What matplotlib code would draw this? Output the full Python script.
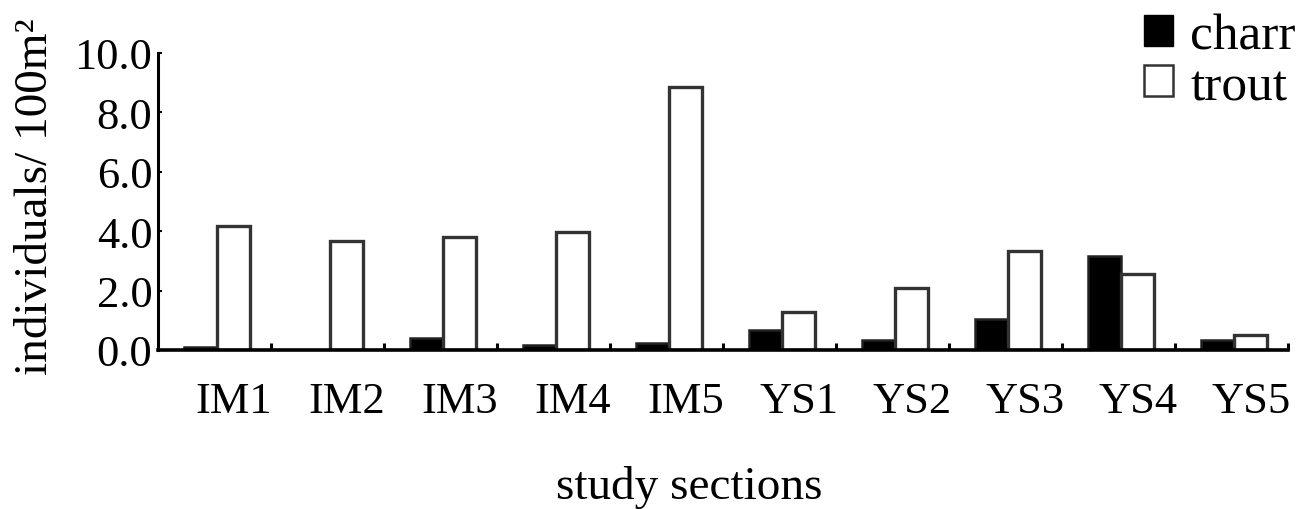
import matplotlib
matplotlib.use("Agg")
import matplotlib.pyplot as plt
import numpy as np
from matplotlib.patches import Patch

plt.rcParams['font.family'] = ['Liberation Serif', 'DejaVu Serif']

sections = ["IM1", "IM2", "IM3", "IM4", "IM5", "YS1", "YS2", "YS3", "YS4", "YS5"]
charr = [0.09, 0.0, 0.41, 0.17, 0.24, 0.68, 0.35, 1.05, 3.17, 0.35]
trout = [4.17, 3.66, 3.79, 3.96, 8.87, 1.28, 2.10, 3.32, 2.55, 0.49]
yticks = [0, 2, 4, 6, 8, 10]

W, H = 1298, 510
fig = plt.figure(figsize=(W / 100, H / 100), dpi=100)
ax = fig.add_axes([158 / W, 1 - 351 / H, (1288 - 158) / W, (351 - 54) / H])

x = np.arange(len(sections))
bw = 0.29
ax.bar(x - bw / 2 + 0.02, charr, width=bw, color='black', edgecolor='#222222', linewidth=1.8)
ax.bar(x + bw / 2 + 0.02, trout, width=bw, color='white', edgecolor='#333333', linewidth=2.4)

ax.set_xlim(-0.5, len(sections) - 0.5)
ax.set_ylim(0, 10)
ax.set_yticks(yticks)
ax.set_yticklabels([f"{v:.1f}" for v in yticks], fontsize=32)
ax.tick_params(axis='y', direction='in', length=3, width=1.5, pad=4)

ax.set_xticks(x + 0.17)
ax.set_xticklabels(sections, fontsize=32)
ax.tick_params(axis='x', which='major', length=0, pad=22)
ax.set_xticks(np.arange(len(sections)) + 0.5, minor=True)
ax.tick_params(axis='x', which='minor', direction='in', length=5, width=2.2)

for s in ['top', 'right']:
    ax.spines[s].set_visible(False)
ax.spines['left'].set_linewidth(2.2)
ax.spines['bottom'].set_linewidth(2.6)

fig.text(689 / W, 1 - 488 / H, "study sections", fontsize=34, ha='center', va='center')
fig.text(36 / W, 1 - 197 / H, "individuals/ 100m\u00b2", fontsize=34, rotation=90,
         ha='center', va='center')

handles = [Patch(facecolor='black', edgecolor='black', label='charr'),
           Patch(facecolor='white', edgecolor='#333333', linewidth=1.8, label='trout')]
fig.legend(handles=handles, loc='upper right', bbox_to_anchor=(1296 / W, 1 - 14 / H),
           frameon=False, fontsize=37, handlelength=0.55, handleheight=0.55,
           handletextpad=0.35, labelspacing=0.08, borderpad=0, borderaxespad=0)

fig.savefig("out.png", dpi=100)
